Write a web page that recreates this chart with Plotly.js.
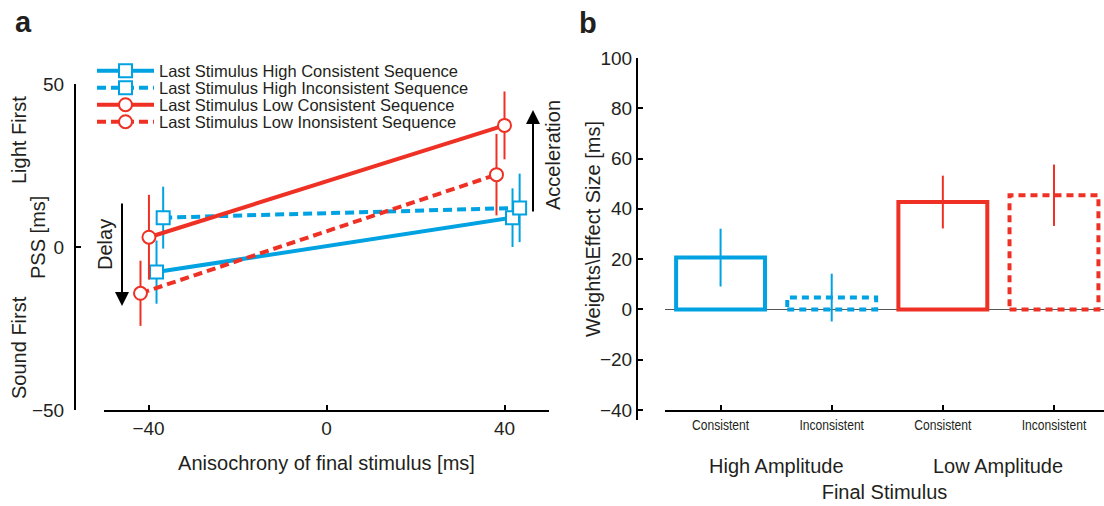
<!DOCTYPE html>
<html>
<head>
<meta charset="utf-8">
<script src="https://cdn.plot.ly/plotly-3.0.1.min.js"></script>
<style>html,body{margin:0;padding:0;background:#fff;}#chart{width:1104px;height:506px;}</style>
</head>
<body>
<div id="chart"></div>
<script>
// ---------- Panel a data ----------
const seriesNames = [
  'Last Stimulus High Consistent Sequence',
  'Last Stimulus High Inconsistent Sequence',
  'Last Stimulus Low Consistent Sequence',
  'Last Stimulus Low Inonsistent Sequence'
];
const highConsX = [-38.2, 41.8];
const highConsY = [-7.7, 9.0];
const highConsErr = [9.7, 9.0];
const highInconsX = [-36.7, 43.4];
const highInconsY = [9.0, 12.0];
const highInconsErr = [9.5, 10.5];
const lowConsX = [-39.9, 40.0];
const lowConsY = [3.0, 37.3];
const lowConsErr = [13.0, 10.4];
const lowInconsX = [-41.8, 38.2];
const lowInconsY = [-14.2, 22.2];
const lowInconsErr = [10.0, 12.5];
const aXTicks = [-40, 0, 40];
const aYTicks = [-50, 0, 50];

// ---------- Panel b data ----------
const bCatIdx = [0, 1, 2, 3];
const bTickText = ['Consistent', 'Inconsistent', 'Consistent', 'Inconsistent'];
const groupLabels = ['High Amplitude', 'Low Amplitude'];
const highBarIdx = [0, 1];
const highBarVals = [20.6, 4.7];
const highBarErr = [11.5, 9.5];
const lowBarIdx = [2, 3];
const lowBarVals = [42.7, 45.4];
const lowBarErr = [10.5, 12.2];
const bYTicks = [-40, -20, 0, 20, 40, 60, 80, 100];

const BLUE = '#00a2e2';
const RED = '#ee3124';
const FONT = 'Liberation Sans, Arial, sans-serif';
const INK = '#231f20';
const W = 1104, H = 506;
const px = v => v / W;
const py = v => 1 - v / H;
const BARW = 0.8;
const legendRows = [71, 88, 105, 122];
const legendIds = ['legend', 'legend2', 'legend3', 'legend4'];

function lineTrace(i, x, y, err, color, dash, symbol) {
  return {
    type: 'scatter', mode: 'lines+markers', name: seriesNames[i], legend: legendIds[i],
    x: x, y: y, xaxis: 'x', yaxis: 'y',
    line: {color: color, width: 4, dash: dash},
    marker: {symbol: symbol, size: 13, color: '#fff', line: {color: color, width: 2}},
    error_y: {type: 'data', array: err, visible: true, color: color, thickness: 2, width: 0}
  };
}

const traces = [
  lineTrace(0, highConsX, highConsY, highConsErr, BLUE, 'solid', 'square'),
  lineTrace(1, highInconsX, highInconsY, highInconsErr, BLUE, '9px,5px', 'square'),
  lineTrace(2, lowConsX, lowConsY, lowConsErr, RED, 'solid', 'circle'),
  lineTrace(3, lowInconsX, lowInconsY, lowInconsErr, RED, '9px,5px', 'circle'),
  {
    type: 'bar', name: groupLabels[0], showlegend: false,
    x: highBarIdx, y: highBarVals, width: BARW, xaxis: 'x2', yaxis: 'y2',
    marker: {color: 'rgba(0,0,0,0)', line: {color: BLUE, width: [4, 0]}},
    error_y: {type: 'data', array: highBarErr, visible: true, color: BLUE, thickness: 2, width: 0}
  },
  {
    type: 'bar', name: groupLabels[1], showlegend: false,
    x: lowBarIdx, y: lowBarVals, width: BARW, xaxis: 'x2', yaxis: 'y2',
    marker: {color: 'rgba(0,0,0,0)', line: {color: RED, width: [4, 0]}},
    error_y: {type: 'data', array: lowBarErr, visible: true, color: RED, thickness: 2, width: 0}
  }
];

// dashed outlines for the "Inconsistent" bars (built from the data arrays)
const shapes = [
  {type: 'rect', xref: 'x2', yref: 'y2', x0: highBarIdx[1] - BARW / 2, x1: highBarIdx[1] + BARW / 2, y0: 0, y1: highBarVals[1],
   line: {color: BLUE, width: 4, dash: '7px,5px'}, fillcolor: 'rgba(0,0,0,0)', layer: 'above'},
  {type: 'rect', xref: 'x2', yref: 'y2', x0: lowBarIdx[1] - BARW / 2, x1: lowBarIdx[1] + BARW / 2, y0: 0, y1: lowBarVals[1],
   line: {color: RED, width: 4, dash: '7px,5px'}, fillcolor: 'rgba(0,0,0,0)', layer: 'above'}
];

const txt = (text, x, y, size, extra) => Object.assign({
  text: text, xref: 'paper', yref: 'paper', x: px(x), y: py(y), showarrow: false,
  xanchor: 'center', yanchor: 'middle', font: {family: FONT, size: size, color: INK}
}, extra || {});

const annotations = [
  txt('<b>a</b>', 23, 22, 29),
  txt('<b>b</b>', 588, 23, 29),
  txt('Light First', 19, 140, 20, {textangle: -90}),
  txt('PSS [ms]', 38, 238, 20, {textangle: -90}),
  txt('Sound First', 19, 348, 20, {textangle: -90}),
  txt('Delay', 105, 245, 20, {textangle: -90}),
  txt('Acceleration', 553, 155, 20, {textangle: -90}),
  txt('Weights\\Effect Size [ms]', 593, 229, 20, {textangle: -90}),
  {text: '', xref: 'paper', yref: 'paper', x: px(122), y: py(306), ax: 0, ay: -104,
   showarrow: true, arrowhead: 2, arrowsize: 1.4, arrowwidth: 2, arrowcolor: '#000'},
  {text: '', xref: 'paper', yref: 'paper', x: px(533), y: py(110), ax: 0, ay: 103,
   showarrow: true, arrowhead: 2, arrowsize: 1.4, arrowwidth: 2, arrowcolor: '#000'},
  {text: groupLabels[0], xref: 'x2', yref: 'paper', x: (bCatIdx[0] + bCatIdx[1]) / 2, y: py(466), showarrow: false,
   xanchor: 'center', yanchor: 'middle', font: {family: FONT, size: 20, color: INK}},
  {text: groupLabels[1], xref: 'x2', yref: 'paper', x: (bCatIdx[2] + bCatIdx[3]) / 2, y: py(466), showarrow: false,
   xanchor: 'center', yanchor: 'middle', font: {family: FONT, size: 20, color: INK}}
];

const axisCommon = {
  showgrid: false, zeroline: false, showline: true, linecolor: '#000', linewidth: 2,
  ticks: 'inside', ticklen: 5, tickwidth: 2, tickcolor: '#000',
  tickfont: {family: FONT, size: 19, color: INK}
};

const layout = {
  width: W, height: H,
  margin: {l: 0, r: 0, t: 0, b: 0},
  paper_bgcolor: '#fff', plot_bgcolor: 'rgba(0,0,0,0)',
  font: {family: FONT, color: INK},
  showlegend: true,
  xaxis: Object.assign({}, axisCommon, {
    domain: [px(104), px(549)], range: [-50, 50], anchor: 'y',
    tickvals: aXTicks,
    title: {text: 'Anisochrony of final stimulus [ms]', font: {family: FONT, size: 20, color: INK}, standoff: 18}
  }),
  yaxis: Object.assign({}, axisCommon, {
    domain: [1 - 410 / H, 1 - 84 / H], range: [-50, 50], anchor: 'free', position: px(75),
    tickvals: aYTicks, ticklabelstandoff: 6
  }),
  xaxis2: Object.assign({}, axisCommon, {
    domain: [px(665), 1], range: [-0.5, 3.45], anchor: 'free', position: 1 - 410.8 / H,
    tickvals: bCatIdx, ticktext: bTickText,
    tickfont: {family: FONT, size: 15.5, color: INK},
    title: {text: 'Final Stimulus', font: {family: FONT, size: 20, color: INK}, standoff: 52}
  }),
  yaxis2: Object.assign({}, axisCommon, {
    domain: [1 - 420 / H, 1 - 58 / H], range: [-44, 100], anchor: 'free', position: px(637),
    tickvals: bYTicks,
    zeroline: true, zerolinecolor: '#555', zerolinewidth: 1
  }),
  shapes: shapes,
  annotations: annotations
};

// one single-entry legend per row so the row spacing matches the reference
legendIds.forEach((id, i) => {
  layout[id] = {
    x: px(92), y: py(legendRows[i]), xanchor: 'left', yanchor: 'middle',
    bgcolor: 'rgba(0,0,0,0)', borderwidth: 0, itemwidth: 57,
    font: {family: FONT, size: 16.5, color: INK}
  };
});

Plotly.newPlot('chart', traces, layout, {displayModeBar: false, responsive: false}).then(gd => {
  // condensed look for the small category labels
  gd.querySelectorAll('.x2tick text').forEach(t => {
    const len = t.getComputedTextLength();
    t.setAttribute('textLength', (len * 0.78).toFixed(1));
    t.setAttribute('lengthAdjust', 'spacingAndGlyphs');
  });
});
</script>
</body>
</html>
